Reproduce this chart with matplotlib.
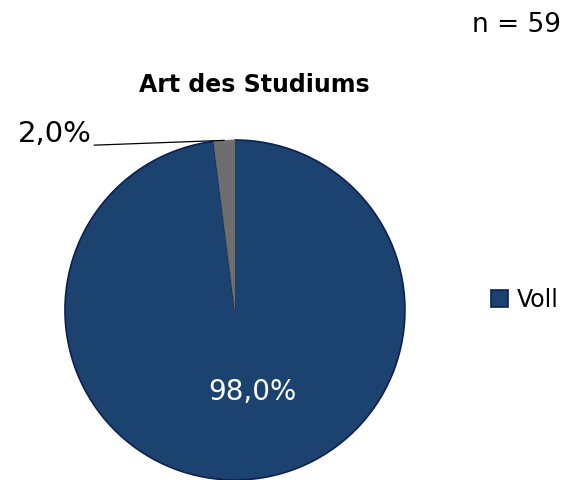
import numpy as np
import matplotlib.pyplot as plt

# chart data
categories = ['Voll', 'Teil']
shares = [98.0, 2.0]
labels = ['98,0%', '2,0%']
colors = ['#1c4270', '#6e6e6e']
title = 'Art des Studiums'
n_text = 'n = 59'

plt.rcParams['font.family'] = ['DejaVu Sans']

fig = plt.figure(figsize=(5.64, 4.8), dpi=100)
ax = fig.add_axes([0.1152, 0.0, 0.6028, 0.7083])

wedges, _ = ax.pie(shares, colors=colors, startangle=90, counterclock=False,
                   radius=1.0, wedgeprops=dict(linewidth=1.2, edgecolor='#0d2150'))
wedges[1].set_edgecolor('#6e6e6e')
wedges[1].set_linewidth(0.5)
ax.set_xlim(-1, 1)
ax.set_ylim(-1, 1)
ax.set_aspect('equal')
ax.axis('off')

# big slice label inside
ax.text(0.1, -0.48, labels[0], color='white', fontsize=20, ha='center', va='center')

# small slice label with leader line
ang = np.deg2rad((wedges[1].theta1 + wedges[1].theta2) / 2)
px, py = np.cos(ang), np.sin(ang)
ax.annotate(labels[1], xy=(px, py), xytext=(-0.845, 1.035),
            fontsize=21, ha='right', va='center', annotation_clip=False,
            arrowprops=dict(arrowstyle='-', color='black', lw=0.9,
                            shrinkA=0, shrinkB=0, relpos=(1.0, 0.1)))

fig.text(0.451, 0.823, title, fontsize=17, fontweight='bold', ha='center', va='center')
fig.text(0.995, 0.948, n_text, fontsize=19, ha='right', va='center')

# legend only shows first category
leg = fig.legend([wedges[0]], [categories[0]], loc='center left',
                 bbox_to_anchor=(0.87, 0.375), frameon=False, fontsize=17,
                 handlelength=0.75, handleheight=0.75, handletextpad=0.35,
                 borderaxespad=0, borderpad=0)

fig.savefig('out.png', dpi=100)
